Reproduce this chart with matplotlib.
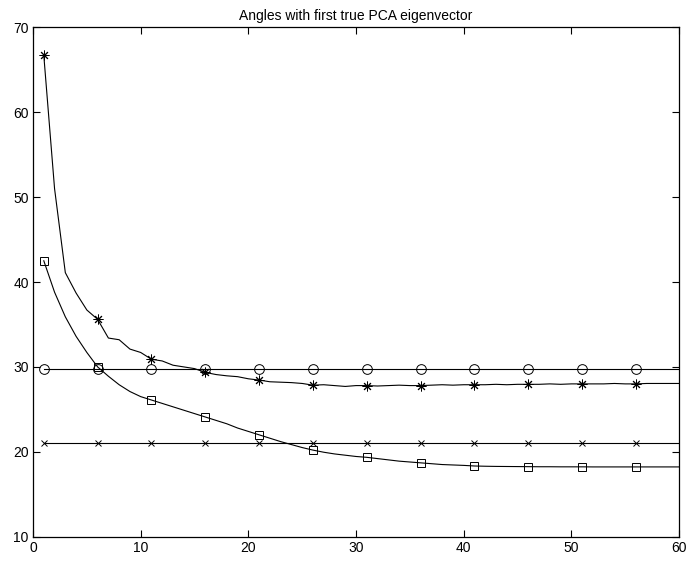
import numpy as np
import matplotlib
matplotlib.use("Agg")
import matplotlib.pyplot as plt

plt.rcParams["font.family"] = ["Liberation Sans", "DejaVu Sans"]

# iteration index 1..60
iters = np.arange(1, 61)

# angle curves (degrees)
angle_star = [66.7, 51.0, 41.1, 38.7, 36.7, 35.6, 33.4, 33.2, 32.1, 31.7,
              30.9, 30.7, 30.2, 30.0, 29.8, 29.35, 29.1, 28.95, 28.85, 28.6,
              28.45, 28.25, 28.2, 28.15, 28.05, 27.85, 27.9, 27.8, 27.7, 27.8,
              27.8, 27.75, 27.8, 27.85, 27.8, 27.8, 27.85, 27.9, 27.85, 27.9,
              27.9, 27.9, 27.95, 27.9, 27.95, 27.95, 27.95, 28.0, 27.95, 28.0,
              28.0, 28.0, 28.0, 28.05, 28.0, 28.0, 28.05, 28.05, 28.05, 28.05]

angle_square = [42.5, 38.8, 35.9, 33.6, 31.7, 30.0, 28.9, 27.9, 27.1, 26.5,
                26.1, 25.7, 25.3, 24.9, 24.5, 24.1, 23.7, 23.3, 22.8, 22.4,
                22.0, 21.6, 21.2, 20.85, 20.5, 20.2, 19.95, 19.75, 19.6, 19.45,
                19.35, 19.2, 19.05, 18.9, 18.8, 18.7, 18.6, 18.5, 18.45, 18.4,
                18.33, 18.3, 18.28, 18.27, 18.26, 18.25, 18.24, 18.24, 18.23, 18.23,
                18.23, 18.22, 18.22, 18.22, 18.22, 18.22, 18.22, 18.22, 18.22, 18.22]

level_circle = 29.7
level_cross = 21.0

x_ticks = [0, 10, 20, 30, 40, 50, 60]
y_ticks = [10, 20, 30, 40, 50, 60, 70]

fig = plt.figure(figsize=(6.88, 5.63), dpi=100)
ax = fig.add_axes([0.048, 0.0467, 0.939, 0.9048])

lw = 0.8
ax.plot(iters, np.full(len(iters), level_circle), color="black", lw=lw,
        marker="o", markevery=5, ms=7, mfc="none", mec="black", mew=0.7)
ax.plot(iters, np.full(len(iters), level_cross), color="black", lw=lw,
        marker="x", markevery=5, ms=5, mec="black", mew=0.7)
ax.plot(iters, angle_star, color="black", lw=lw,
        marker=(8, 2, 0), markevery=5, ms=7, mec="black", mew=0.7)
ax.plot(iters, angle_square, color="black", lw=lw,
        marker="s", markevery=5, ms=6, mfc="none", mec="black", mew=0.7)

ax.set_xlim(0, 60)
ax.set_ylim(10, 70)
ax.set_xticks(x_ticks)
ax.set_yticks(y_ticks)
ax.tick_params(direction="in", top=True, right=True, length=5, width=0.8,
               labelsize=10, pad=3)
for s in ax.spines.values():
    s.set_linewidth(0.9)

ax.set_title("Angles with first true PCA eigenvector", fontsize=10, pad=5)

fig.savefig("out.png", dpi=100)
